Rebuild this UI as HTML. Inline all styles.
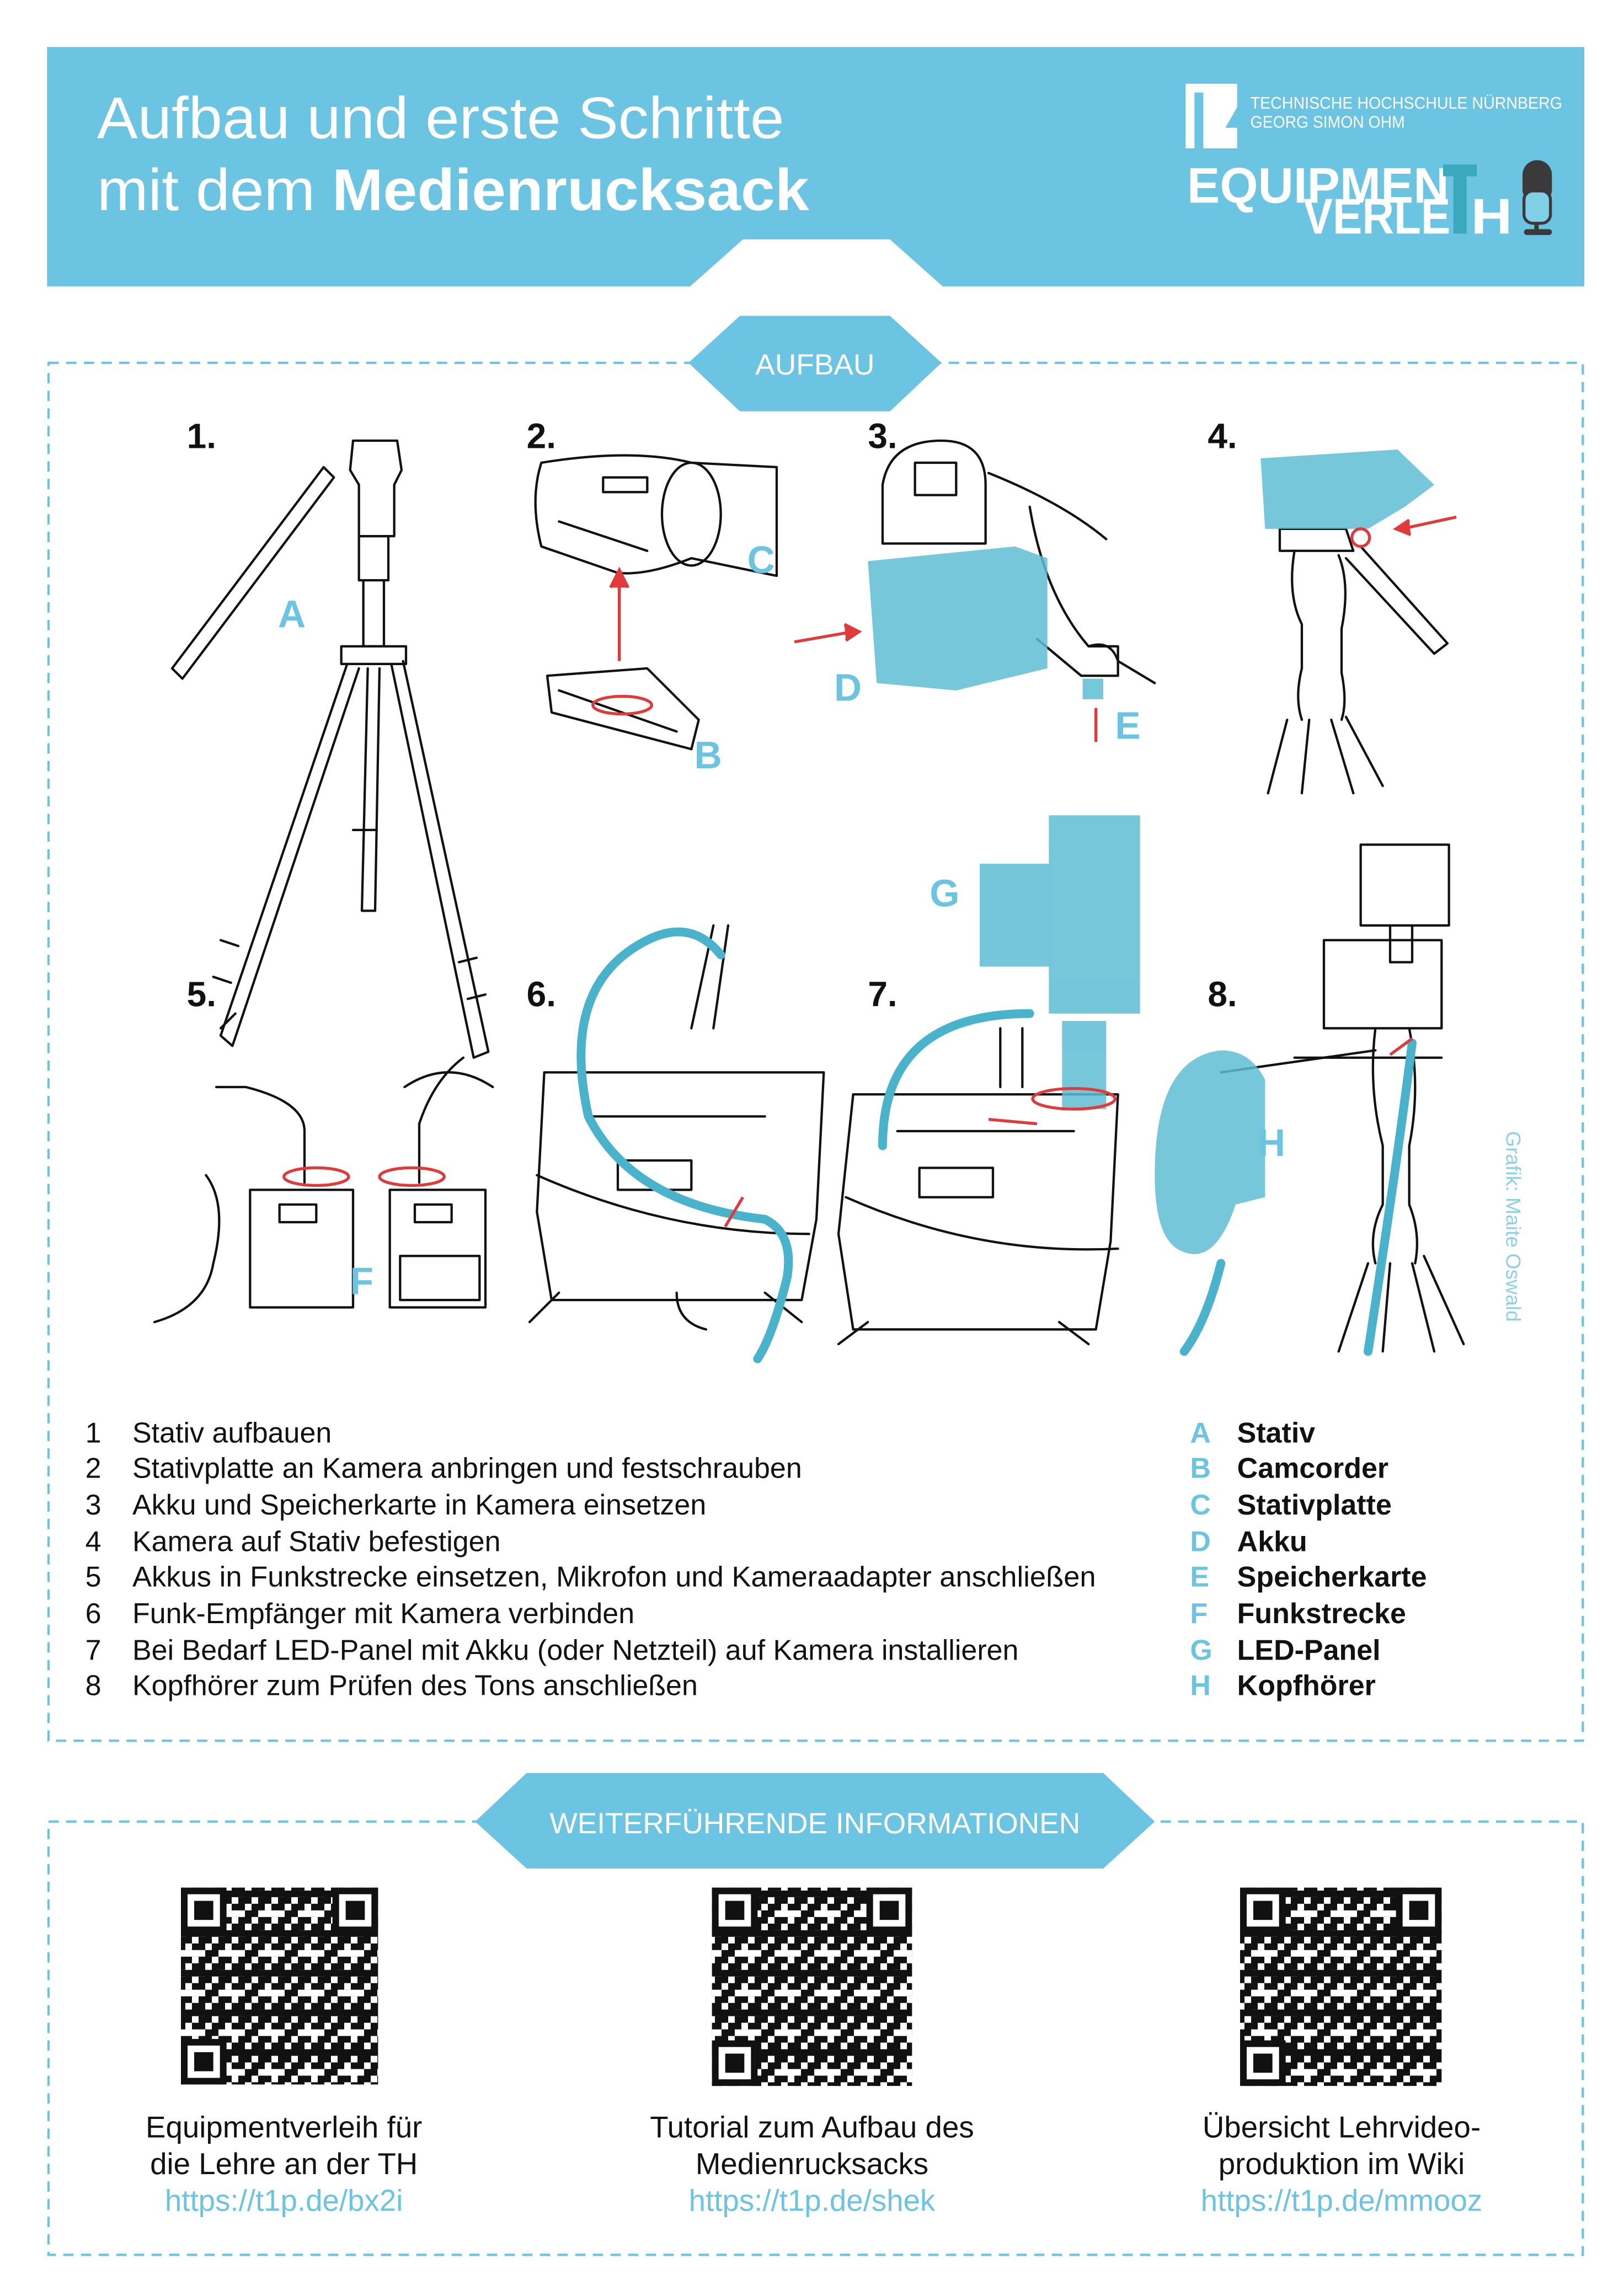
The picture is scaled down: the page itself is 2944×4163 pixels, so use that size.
<!DOCTYPE html>
<html><head><meta charset="utf-8"><style>
html,body{margin:0;padding:0;background:#fff}
svg{display:block}
text{font-family:"Liberation Sans",sans-serif}
</style></head><body>
<svg width="2944" height="4163" viewBox="0 0 1104 1563" preserveAspectRatio="none" xmlns="http://www.w3.org/2000/svg">
<defs>
<pattern id="qr" width="13.5" height="13.5" patternUnits="userSpaceOnUse">
<rect width="13.5" height="13.5" fill="#fff"/>
<rect x="0" y="0" width="4.5" height="4.5" fill="#111"/><rect x="9" y="0" width="4.5" height="9" fill="#111"/>
<rect x="4.5" y="4.5" width="4.5" height="4.5" fill="#111"/>
<rect x="0" y="9" width="9" height="4.5" fill="#111"/>
</pattern>
<pattern id="qr2" width="27" height="27" patternUnits="userSpaceOnUse">
<rect x="0" y="13.5" width="4.5" height="9" fill="#111"/><rect x="18" y="4.5" width="9" height="4.5" fill="#fff"/>
<rect x="13.5" y="18" width="4.5" height="4.5" fill="#111"/>
</pattern>
<g id="finder"><rect x="0" y="0" width="31" height="31" fill="#111"/><rect x="4.5" y="4.5" width="22" height="22" fill="#fff"/><rect x="9" y="9" width="13" height="13" fill="#111"/></g>
</defs>

<!-- Header -->
<rect x="32" y="32" width="1045" height="163" fill="#6bc4e2"/>
<polygon points="468,196 505,163 605,163 642,196" fill="#fff"/>
<text x="66" y="94" font-size="40" fill="#fff" textLength="467" lengthAdjust="spacingAndGlyphs">Aufbau und erste Schritte</text>
<text x="66" y="143" font-size="40" fill="#fff" textLength="484" lengthAdjust="spacingAndGlyphs">mit dem <tspan font-weight="bold">Medienrucksack</tspan></text>
<!-- logo -->
<path d="M806,57 h35 v16 l-8,14 h8 v14 h-23 v-38 h-6 v38 h-6 z" fill="#fff"/>
<text x="850" y="74" font-size="11.5" fill="#fff" textLength="212" lengthAdjust="spacingAndGlyphs">TECHNISCHE HOCHSCHULE NÜRNBERG</text>
<text x="850" y="87" font-size="11.5" fill="#fff" textLength="105" lengthAdjust="spacingAndGlyphs">GEORG SIMON OHM</text>
<text x="807" y="138" font-size="34" font-weight="bold" fill="#fff" textLength="178" lengthAdjust="spacingAndGlyphs">EQUIPMEN</text>
<rect x="988" y="113" width="9" height="46" fill="#3aa9bf"/><rect x="981" y="112" width="23" height="8" fill="#3aa9bf"/>
<text x="886" y="159" font-size="34" font-weight="bold" fill="#fff" textLength="100" lengthAdjust="spacingAndGlyphs">VERLE</text>
<text x="1000" y="159" font-size="34" font-weight="bold" fill="#fff" textLength="28" lengthAdjust="spacingAndGlyphs">H</text>
<rect x="1035" y="109" width="20" height="30" rx="10" fill="#3a3a3a"/>
<rect x="1036" y="130" width="18" height="22" rx="6" fill="#7fd0e6" stroke="#3a3a3a" stroke-width="2"/>
<rect x="1043" y="152" width="3" height="6" fill="#3a3a3a"/><rect x="1036" y="156" width="19" height="4" rx="2" fill="#3a3a3a"/>

<!-- Box 1 -->
<rect x="33" y="247" width="1043" height="938" fill="none" stroke="#6bc4e2" stroke-width="1.6" stroke-dasharray="7,5"/>
<polygon points="468,247 503,215 605,215 640,247 605,280 503,280" fill="#6bc4e2"/>
<text x="554" y="255" font-size="20" fill="#fff" text-anchor="middle">AUFBAU</text>

<g font-size="24" font-weight="bold" fill="#111">
<text x="127" y="305">1.</text><text x="358" y="305">2.</text><text x="590" y="305">3.</text><text x="821" y="305">4.</text>
<text x="127" y="685">5.</text><text x="358" y="685">6.</text><text x="590" y="685">7.</text><text x="821" y="685">8.</text>
</g>

<g fill="none" stroke="#111" stroke-width="1.6" stroke-linecap="round" stroke-linejoin="round">
<!-- 1 tripod -->
<path d="M117,455 L220,318 L227,325 L124,462 Z"/>
<path d="M240,300 h30 l3,20 -5,10 v35 h-24 v-35 l-6,-10 z"/>
<path d="M244,365 h20 v30 h-20 z M247,395 h14 v45 h-14 z"/>
<path d="M232,440 h44 v12 h-44 z"/>
<path d="M236,452 L150,705 L158,712 L244,455"/>
<path d="M250,455 L246,620 L255,620 L258,455"/>
<path d="M266,452 L322,720 L332,716 L274,450"/>
<path d="M150,640 l12,4 M145,665 l12,4 M160,690 l-10,10 M312,655 l12,-3 M318,680 l12,-3 M240,565 h16"/>
<!-- 2 camcorder -->
<path d="M368,315 Q430,305 470,315 L528,318 L528,392 L470,380 Q440,392 420,390 L368,372 Q360,340 368,315 Z"/>
<ellipse cx="470" cy="350" rx="20" ry="35"/>
<path d="M410,325 h30 v10 h-30 z M380,355 q30,10 60,20"/>
<path d="M372,460 L440,455 L475,490 L470,510 L375,485 Z"/>
<path d="M380,470 l80,28"/>
<!-- 3 camera back -->
<path d="M600,330 q5,-30 40,-30 q30,0 30,30 v40 h-70 z"/>
<rect x="622" y="315" width="28" height="22"/>
<path d="M672,322 q50,20 80,45 M700,345 q10,60 40,95 h20 v20 h-25 l-30,-25"/>
<path d="M740,440 q15,-5 20,10 l25,15"/>
<!-- 4 tripod head -->
<path d="M870,360 h45 l5,15 h-50 z"/>
<path d="M880,375 q-5,30 5,50 v30 q-5,20 0,35 M910,378 q8,20 2,50 v30 q4,20 0,32"/>
<path d="M915,380 L975,445 L984,438 L925,372"/>
<path d="M875,490 L862,540 M890,490 L885,540 M905,490 L920,540 M915,488 L940,535"/>
<!-- 5 -->
<path d="M170,810 h70 v80 h-70 z M265,810 h65 v80 h-65 z"/>
<rect x="190" y="820" width="25" height="12"/><rect x="282" y="820" width="25" height="12"/>
<rect x="272" y="855" width="54" height="30"/>
<path d="M207,805 v-35 q0,-20 -40,-30 h-20 M285,805 v-40 q10,-30 30,-45 M275,740 q30,-20 60,0 M140,800 q15,20 5,60 q-5,30 -40,40"/>
<!-- 6 bag -->
<path d="M370,730 h190 l-5,100 l-10,55 h-170 l-10,-60 z"/>
<path d="M365,800 q90,40 185,40 M400,760 h120 M420,790 h50 v20 h-50 z M470,700 l15,-70 M485,700 l10,-70"/>
<path d="M380,880 l-20,20 M520,880 l25,20 M460,880 q0,20 20,25"/>
<!-- 7 bag -->
<path d="M580,745 h180 l-5,100 l-10,60 h-165 l-10,-65 z"/>
<path d="M575,815 q90,40 185,35 M610,770 h120 M625,795 h50 v20 h-50 z M680,740 v-40 M695,740 v-40"/>
<path d="M590,900 l-20,15 M720,900 l20,15"/>
<!-- 8 tripod & camera -->
<path d="M925,575 h60 v55 h-60 z M945,630 v25 h15 v-25 M900,640 h80 v60 h-80 z M880,720 l100,0"/>
<path d="M935,700 q-5,40 5,80 v40 q-10,20 -5,40 M958,700 q8,40 0,80 v40 q8,20 4,40"/>
<path d="M930,860 L910,920 M945,860 L940,920 M960,860 L975,920 M968,855 L995,915"/>
<path d="M830,730 L935,715"/>
</g>

<!-- blue fills -->
<g fill="#5fbdd5" opacity="0.85">
<path d="M590,382 L690,372 L712,380 L712,455 L650,470 L596,465 Z"/>
<path d="M857,312 L950,306 L975,330 L955,345 L930,360 L860,360 Z"/>
<rect x="736" y="462" width="14" height="14"/>
<rect x="713" y="555" width="62" height="135"/>
<rect x="666" y="588" width="48" height="70"/>
<rect x="722" y="695" width="30" height="60"/>
<path d="M785,800 q0,-80 45,-85 q20,0 30,20 l0,80 l-20,5 q-15,45 -40,30 q-15,-10 -15,-50 z"/>
</g>
<g fill="none" stroke="#4ab3cc" stroke-width="6" stroke-linecap="round">
<path d="M490,650 q-20,-25 -50,-10 q-60,30 -40,120 q30,60 120,70 q20,10 15,40 q-10,40 -20,55"/>
<path d="M830,860 q-10,40 -25,60 M960,710 q-10,80 -30,210"/>
<path d="M700,690 q-100,0 -100,90"/>
</g>
<!-- red marks -->
<g fill="none" stroke="#e03a3a" stroke-width="2">
<path d="M421,450 V392"/><path d="M415,400 l6,-12 l6,12" fill="#e03a3a"/>
<ellipse cx="423" cy="480" rx="20" ry="6"/>
<path d="M540,437 L580,430"/><path d="M574,425 l10,5 l-9,6" fill="#e03a3a"/>
<path d="M745,505 V482"/>
<path d="M990,352 L953,360"/><path d="M958,354 l-9,6 l10,4" fill="#e03a3a"/>
<circle cx="925" cy="366" r="6"/>
<ellipse cx="215" cy="801" rx="22" ry="6"/><ellipse cx="280" cy="801" rx="22" ry="6"/>
<path d="M493,835 L505,815"/>
<ellipse cx="730" cy="748" rx="28" ry="7"/>
<path d="M672,762 L705,765"/>
<path d="M945,718 L960,707"/>
</g>

<g font-size="26" font-weight="bold" fill="#6bc4e2">
<text x="189" y="427">A</text><text x="472" y="523">B</text><text x="508" y="390">C</text><text x="567" y="477">D</text>
<text x="758" y="503">E</text><text x="238" y="881">F</text><text x="632" y="617">G</text><text x="855" y="787">H</text>
</g>
<text transform="translate(1024,770) rotate(90)" font-size="14" fill="#8fd0e6">Grafik: Maite Oswald</text>

<!-- legend -->
<g font-size="19.5" fill="#111">
<text x="58" y="982">1</text><text x="90" y="982">Stativ aufbauen</text>
<text x="58" y="1006">2</text><text x="90" y="1006">Stativplatte an Kamera anbringen und festschrauben</text>
<text x="58" y="1031">3</text><text x="90" y="1031">Akku und Speicherkarte in Kamera einsetzen</text>
<text x="58" y="1056">4</text><text x="90" y="1056">Kamera auf Stativ befestigen</text>
<text x="58" y="1080">5</text><text x="90" y="1080" textLength="655" lengthAdjust="spacingAndGlyphs">Akkus in Funkstrecke einsetzen, Mikrofon und Kameraadapter anschließen</text>
<text x="58" y="1105">6</text><text x="90" y="1105">Funk-Empfänger mit Kamera verbinden</text>
<text x="58" y="1130">7</text><text x="90" y="1130">Bei Bedarf LED-Panel mit Akku (oder Netzteil) auf Kamera installieren</text>
<text x="58" y="1154">8</text><text x="90" y="1154">Kopfhörer zum Prüfen des Tons anschließen</text>
</g>
<g font-size="19.5" fill="#111" font-weight="bold">
<text x="841" y="982">Stativ</text><text x="841" y="1006">Camcorder</text><text x="841" y="1031">Stativplatte</text><text x="841" y="1056">Akku</text>
<text x="841" y="1080">Speicherkarte</text><text x="841" y="1105">Funkstrecke</text><text x="841" y="1130">LED-Panel</text><text x="841" y="1154">Kopfhörer</text>
</g>
<g font-size="19.5" font-weight="bold" fill="#6bc4e2">
<text x="809" y="982">A</text><text x="809" y="1006">B</text><text x="809" y="1031">C</text><text x="809" y="1056">D</text>
<text x="809" y="1080">E</text><text x="809" y="1105">F</text><text x="809" y="1130">G</text><text x="809" y="1154">H</text>
</g>

<!-- Box 2 -->
<rect x="33" y="1240" width="1043" height="295" fill="none" stroke="#6bc4e2" stroke-width="1.6" stroke-dasharray="7,5"/>
<polygon points="323,1240 358,1207 750,1207 785,1240 750,1272 358,1272" fill="#6bc4e2"/>
<text x="554" y="1248" font-size="20" fill="#fff" text-anchor="middle">WEITERFÜHRENDE INFORMATIONEN</text>

<g>
<rect x="123" y="1285" width="134" height="134" fill="url(#qr)"/><rect x="123" y="1285" width="134" height="134" fill="url(#qr2)"/>
<use href="#finder" x="123" y="1285"/><use href="#finder" x="226" y="1285"/><use href="#finder" x="123" y="1388"/>
<rect x="484" y="1285" width="136" height="135" fill="url(#qr)"/><rect x="484" y="1285" width="136" height="135" fill="url(#qr2)"/>
<use href="#finder" x="484" y="1285"/><use href="#finder" x="589" y="1285"/><use href="#finder" x="484" y="1389"/>
<rect x="843" y="1285" width="137" height="135" fill="url(#qr)"/><rect x="843" y="1285" width="137" height="135" fill="url(#qr2)"/>
<use href="#finder" x="843" y="1285"/><use href="#finder" x="949" y="1285"/><use href="#finder" x="843" y="1389"/>
</g>
<g font-size="20.5" fill="#111" text-anchor="middle">
<text x="193" y="1455">Equipmentverleih für</text><text x="193" y="1480">die Lehre an der TH</text>
<text x="552" y="1455">Tutorial zum Aufbau des</text><text x="552" y="1480">Medienrucksacks</text>
<text x="912" y="1455">Übersicht Lehrvideo-</text><text x="912" y="1480">produktion im Wiki</text>
</g>
<g font-size="20.5" fill="#6bc4e2" text-anchor="middle">
<text x="193" y="1505">https://t1p.de/bx2i</text>
<text x="552" y="1505">https://t1p.de/shek</text>
<text x="912" y="1505">https://t1p.de/mmooz</text>
</g>
</svg>
</body></html>
